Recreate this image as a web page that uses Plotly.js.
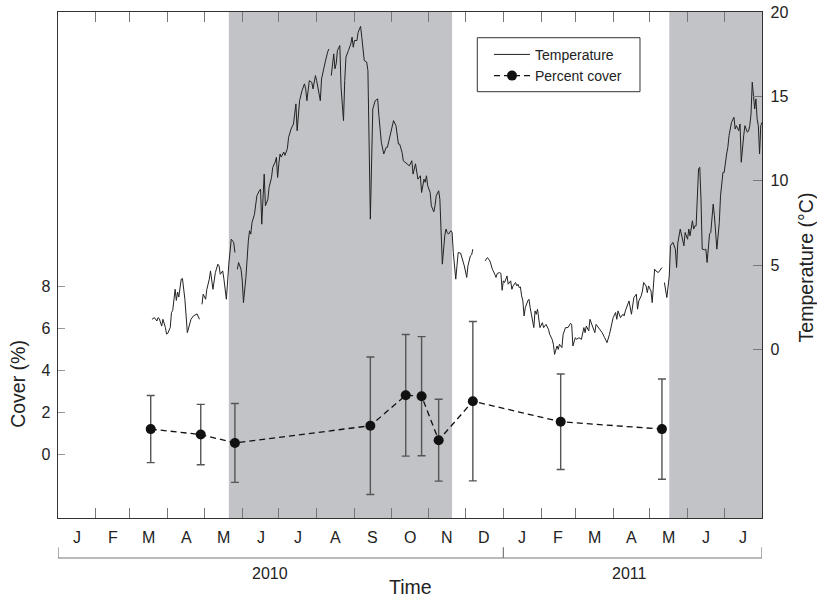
<!DOCTYPE html>
<html>
<head>
<meta charset="utf-8">
<script src="https://cdn.plot.ly/plotly-3.0.1.min.js"></script>
<style>html,body{margin:0;padding:0;background:#fff;}#chart{width:817px;height:597px;}</style>
</head>
<body>
<div id="chart"></div>
<script>
// ---- data ----
// Temperature: day offset from 2010-01-01, value in °C (null = gap in record)
var tempDay = [77,79,81,82,83,85,86,88,89,90,92,93,94,96,97,98,99,101,102,104,106,108,109,111,114,116,117,
118,119,121,122,124,125,127,128,129,131,132,133,135,136,137,138,140,141,142,144,145,146,
147,148,150,151,152,154,156,157,158,159,161,162,163,165,166,167,168,169,170,172,173,175,176,178,179,180,181,182,183,185,186,187,188,189,190,191,193,194,195,196,197,198,200,202,203,204,205,206,208,209,211,212,214,215,216,218,219,221,222,223,
224,226,227,228,229,231,232,234,235,236,238,240,241,242,243,245,246,248,249,251,253,254,256,257,258,260,262,263,265,267,269,270,272,274,275,277,279,280,282,283,285,287,288,290,291,293,295,297,298,300,301,302,303,305,306,308,309,310,312,313,314,315,317,318,319,320,322,323,324,326,327,328,330,331,333,335,336,338,339,340,341,
350,352,354,356,358,359,360,362,363,364,365,366,368,369,371,372,373,375,376,377,378,379,380,381,382,383,385,386,387,388,390,391,392,393,394,395,397,398,399,400,402,403,405,406,407,409,410,411,413,414,416,418,420,421,422,424,425,427,429,431,432,433,435,436,438,440,441,442,444,446,448,450,452,453,455,457,458,459,461,463,464,465,467,468,470,471,472,474,475,476,478,479,480,482,483,484,486,487,488,489,490,492,493,495,496,
497,498,499,501,502,504,506,507,508,510,512,513,514,516,517,518,520,521,522,523,525,526,527,528,530,531,532,533,534,535,537,538,539,540,542,543,545,546,548,549,550,552,554,555,556,558,559,560,562,563,565,566,567,568,569,570,571,572,573,574,575,576,577];
var tempC = [1.78,1.88,1.68,1.88,1.82,1.38,1.78,1.3,0.9,0.95,1.3,2.18,2.3,3.56,2.9,3.4,3.1,4.16,4.2,2.97,0.99,1.5,1.78,1.98,2.1,1.78,null,
2.67,3.27,2.97,3.56,4.16,4.65,3.56,4.0,4.55,5.05,4.95,4.45,4.65,4.16,3.7,2.97,5.05,5.84,6.53,6.34,5.74,null,
4.75,5.15,4.75,4.1,2.77,4.26,6.43,7.03,6.83,7.52,8.0,8.61,9.1,9.4,9.5,7.42,8.61,10.39,8.51,8.9,9.6,10.19,10.79,11.1,11.38,10.19,11.0,11.58,11.4,11.7,11.5,11.78,11.9,12.57,12.87,13.06,13.36,13.95,14.55,12.96,13.95,14.74,15.34,15.74,15.44,14.74,15.34,15.93,15.83,15.44,16.23,15.93,15.14,14.74,16.03,16.83,17.03,17.62,17.81,null,
16.23,17.52,16.63,16.93,17.71,18.01,15.54,13.56,15.93,17.32,17.71,18.11,18.51,17.91,18.31,18.31,18.8,19.15,18.5,17.12,17.03,16.53,7.72,11.68,14.25,14.74,14.85,13.86,12.27,11.58,11.98,11.98,12.67,13.26,13.56,13.26,12.17,12.17,11.68,11.18,11.08,10.94,10.88,11.18,10.39,11.0,10.09,10.29,9.3,10.09,9.9,10.29,9.7,9.3,8.51,8.15,8.51,9.1,9.4,8.9,6.73,5.05,6.73,7.13,6.93,6.83,7.03,6.93,5.74,4.16,4.95,5.74,5.7,5.44,4.95,4.26,4.95,5.54,5.6,5.94,null,
5.24,5.44,5.24,4.75,4.45,4.26,4.5,4.55,4.5,3.5,4.06,3.96,4.35,3.86,4.06,3.56,3.76,3.96,3.76,3.86,3.66,3.7,3.17,2.87,1.98,2.47,2.87,2.97,2.47,2.08,1.29,2.28,2.08,2.38,1.88,1.29,1.58,1.29,1.39,1.48,1.19,0.89,0.59,0.3,-0.3,0.2,0.0,0.3,0.1,0.89,1.29,1.29,1.54,1.48,0.2,0.69,0.59,0.69,0.59,1.29,0.99,1.38,1.09,1.78,1.38,0.99,1.48,1.38,1.19,0.99,0.69,0.4,0.89,1.29,1.88,2.18,1.78,2.28,1.88,2.08,1.98,2.28,2.77,2.87,2.08,2.77,3.07,3.27,2.38,2.87,3.17,3.46,3.96,3.76,3.36,3.76,3.46,2.77,4.06,4.75,4.65,4.55,4.65,4.85,null,
3.96,3.56,3.07,4.35,6.14,6.34,5.94,4.85,6.3,7.13,6.53,6.14,6.93,6.53,7.13,6.73,7.62,7.13,7.32,7.32,10.69,10.79,8.9,5.94,5.9,5.94,5.15,5.84,6.83,6.93,8.61,7.92,6.63,5.94,7.52,9.1,10.49,10.49,11.58,11.98,12.67,13.46,13.76,13.06,13.26,12.96,13.36,11.09,12.67,13.26,12.87,12.96,13.26,13.95,15.84,14.85,14.25,14.85,13.66,13.26,11.58,13.26,13.46];

// Percent cover (mean ± error)
var coverDates = ['2010-03-18','2010-04-28','2010-05-26','2010-09-14','2010-10-13','2010-10-26','2010-11-09','2010-12-07','2011-02-17','2011-05-11'];
var coverVals  = [1.21,0.95,0.55,1.37,2.82,2.78,0.68,2.54,1.56,1.21];
var coverErr   = [1.6,1.44,1.88,3.28,2.9,2.84,1.95,3.8,2.28,2.39];

// Shaded periods
var shadeStart = ['2010-05-21','2011-05-17'];
var shadeEnd   = ['2010-11-20','2011-08-01'];

// Axis ticks / labels
var monthLetters = ['J','F','M','A','M','J','J','A','S','O','N','D','J','F','M','A','M','J','J'];
var coverTicks = [0,2,4,6,8];
var tempTicks = [0,5,10,15,20];
var yearLabels = ['2010','2011'];

// ---- build ----
var DAY = 86400000, T0 = Date.UTC(2010,0,1);
function iso(ms){ return new Date(ms).toISOString().slice(0,10); }
function isoT(ms){ return new Date(ms).toISOString().slice(0,19).replace('T',' '); }
var tempDates = tempDay.map(function(d){ return iso(T0 + d*DAY); });

var monthStarts = [], monthMids = [];
for (var i = 0; i <= monthLetters.length; i++) {
  var s = Date.UTC(2010, i, 1);
  monthStarts.push(iso(s));
  if (i < monthLetters.length) {
    var e = Date.UTC(2010, i+1, 1);
    monthMids.push(isoT((s+e)/2));
  }
}
var xRange = [monthStarts[0], monthStarts[monthStarts.length-1]];

var FONT = 'Liberation Sans, Arial, Helvetica, sans-serif';
var TXT = '#222';

var traces = [
  {
    x: tempDates, y: tempC, xaxis:'x', yaxis:'y2',
    type:'scatter', mode:'lines', name:'Temperature',
    line:{color:'#222', width:1}, connectgaps:false, hoverinfo:'skip'
  },
  {
    x: coverDates, y: coverVals, xaxis:'x', yaxis:'y',
    type:'scatter', mode:'lines+markers', name:'Percent cover',
    line:{color:'#111', width:1.3, dash:'6px,4px'},
    marker:{color:'#111', size:10},
    error_y:{type:'data', array: coverErr, visible:true, color:'#555', thickness:1.4, width:4},
    hoverinfo:'skip'
  }
];

var shapes = [];
for (var k = 0; k < shadeStart.length; k++) {
  shapes.push({type:'rect', xref:'x', yref:'paper', x0:shadeStart[k], x1:shadeEnd[k], y0:0, y1:1,
    fillcolor:'#c2c3c7', line:{width:0}, layer:'below'});
}
// legend frame
shapes.push({type:'rect', xref:'paper', yref:'paper', x0:0.5956, x1:0.8267, y0:0.8425, y1:0.9492,
  fillcolor:'rgba(0,0,0,0)', line:{color:'#333', width:1}, layer:'above'});
// year bracket
var yb = -0.0791, yt = -0.058;
shapes.push({type:'line', xref:'x', yref:'paper', x0:xRange[0], x1:xRange[1], y0:yb, y1:yb, line:{color:'#777', width:1.2}});
['2010-01-01','2011-01-01', xRange[1]].forEach(function(d){
  shapes.push({type:'line', xref:'x', yref:'paper', x0:d, x1:d, y0:yb, y1:yt, line:{color:'#777', width:1.2}});
});

var annotations = [
  {text:'Cover (%)', xref:'paper', yref:'paper', x:-0.0559, y:0.2645, showarrow:false, textangle:-90,
   font:{size:19.5, color:TXT, family:FONT}, xanchor:'center', yanchor:'middle'},
  {text:'Temperature (°C)', xref:'paper', yref:'paper', x:1.063, y:0.496, showarrow:false, textangle:-90,
   font:{size:19.5, color:TXT, family:FONT}, xanchor:'center', yanchor:'middle'},
  {text:'Time', xref:'paper', yref:'paper', x:0.5, y:-0.1365, showarrow:false,
   font:{size:19.5, color:TXT, family:FONT}, xanchor:'center', yanchor:'middle'},
  {text:yearLabels[0], xref:'x', yref:'paper', x:'2010-06-24', y:-0.1088, showarrow:false,
   font:{size:16, color:TXT, family:FONT}, xanchor:'center', yanchor:'middle'},
  {text:yearLabels[1], xref:'x', yref:'paper', x:'2011-04-14', y:-0.1088, showarrow:false,
   font:{size:16, color:TXT, family:FONT}, xanchor:'center', yanchor:'middle'}
];
// month letters, centred within each month
for (var m = 0; m < monthLetters.length; m++) {
  annotations.push({text:monthLetters[m], xref:'x', yref:'paper', x:monthMids[m], y:-0.0389, showarrow:false,
    font:{size:16, color:TXT, family:FONT}, xanchor:'center', yanchor:'middle'});
}

var layout = {
  width:817, height:597, autosize:false,
  margin:{l:58, r:55, t:12, b:79, pad:0},
  paper_bgcolor:'#fff', plot_bgcolor:'#fff',
  font:{family:FONT, color:TXT, size:16},
  showlegend:true,
  legend:{x:0.6122, y:0.947, xanchor:'left', yanchor:'top', bgcolor:'rgba(0,0,0,0)',
          borderwidth:0, itemwidth:36, font:{size:14, family:FONT, color:TXT}},
  xaxis:{type:'date', range:xRange, tickmode:'array', tickvals:monthStarts, showticklabels:false,
         ticks:'inside', ticklen:10, tickcolor:'#777', tickwidth:1,
         showline:true, linecolor:'#333', linewidth:1.3, mirror:'ticks', showgrid:false, zeroline:false},
  yaxis:{range:[-3.03,21.1], tickmode:'array', tickvals:coverTicks, ticks:'inside', ticklen:7, tickcolor:'#999',
         showline:true, linecolor:'#333', linewidth:1.3, showgrid:false, zeroline:false,
         tickfont:{size:16, color:TXT, family:FONT}, ticklabelstandoff:3},
  yaxis2:{overlaying:'y', side:'right', anchor:'x', range:[-10,20], tickmode:'array', tickvals:tempTicks,
          ticks:'inside', ticklen:9, tickcolor:'#777', showline:true, linecolor:'#333', linewidth:1.3,
          showgrid:false, zeroline:false, tickfont:{size:16, color:TXT, family:FONT}, ticklabelstandoff:4},
  shapes:shapes,
  annotations:annotations
};

Plotly.newPlot('chart', traces, layout, {displayModeBar:false, staticPlot:true});
</script>
</body>
</html>
